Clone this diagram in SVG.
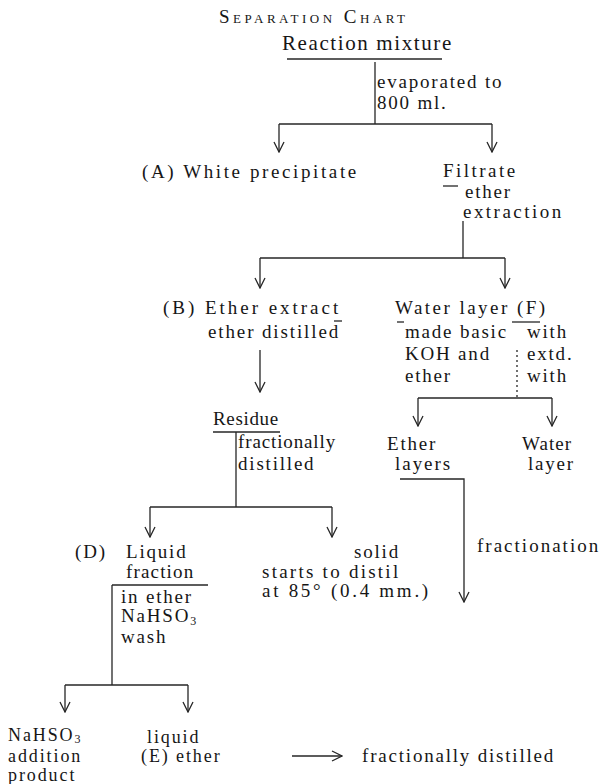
<svg xmlns="http://www.w3.org/2000/svg" width="606" height="784" viewBox="0 0 606 784">
<defs>
<style>
text{font-family:"Liberation Serif","DejaVu Serif",serif;font-size:19px;fill:#161616;letter-spacing:1.8px}
.t{font-size:19px;font-variant:small-caps;letter-spacing:0}
.h{font-size:21px}
.b{font-size:18px;letter-spacing:1.9px}
.c line,.c path,.c polyline{stroke:#262626;stroke-width:1.3;fill:none}
.sub{font-size:12px}
</style>
<marker id="ah" viewBox="0 0 12 12" refX="11" refY="6" markerWidth="12" markerHeight="12" markerUnits="userSpaceOnUse" orient="auto">
<path d="M1,1 L11,6 L1,11" fill="none" stroke="#262626" stroke-width="1.3"/>
</marker>
</defs>
<rect width="606" height="784" fill="#fff"/>

<g id="title"><text class="t" x="219" y="23" textLength="186" lengthAdjust="spacing">Separation Chart</text></g>
<g id="reaction"><text class="h" x="282" y="50" textLength="171" lengthAdjust="spacing">Reaction mixture</text></g>
<g id="evap"><text x="377" y="88">evaporated to</text><text x="377" y="109">800 ml.</text></g>
<g id="nodeA"><text x="142" y="178" textLength="216" lengthAdjust="spacing">(A)  White precipitate</text></g>
<g id="filtrate"><text x="443" y="177" textLength="74" lengthAdjust="spacing">Filtrate</text>
<text x="465" y="198">ether</text><text x="463" y="218" textLength="100" lengthAdjust="spacing">extraction</text></g>
<g id="nodeB"><text x="163" y="314" textLength="177" lengthAdjust="spacing">(B)  Ether extract</text>
<text x="208" y="338" textLength="132" lengthAdjust="spacing">ether distilled</text></g>
<g id="nodeF"><text x="395" y="314" textLength="152" lengthAdjust="spacing">Water layer (F)</text>
<text x="405" y="338">made basic</text><text x="527" y="338">with</text>
<text x="405" y="360">KOH and</text><text x="527" y="360">extd.</text>
<text x="405" y="382">ether</text><text x="527" y="382">with</text></g>
<g id="residue"><text x="213" y="425" textLength="67" lengthAdjust="spacing">Residue</text>
<text x="238" y="448" textLength="99" lengthAdjust="spacing">fractionally</text><text x="238" y="470">distilled</text></g>
<g id="etherLayers"><text x="387" y="450">Ether</text><text x="395" y="470" textLength="57" lengthAdjust="spacing">layers</text></g>
<g id="waterLayer"><text x="522" y="450" textLength="51" lengthAdjust="spacing">Water</text><text x="528" y="470">layer</text></g>
<g id="fractionation"><text x="477" y="552" textLength="123" lengthAdjust="spacing">fractionation</text></g>
<g id="nodeD"><text x="75" y="558">(D)</text><text x="126" y="558">Liquid</text>
<text x="126" y="578" textLength="69" lengthAdjust="spacing">fraction</text>
<text x="121" y="603">in ether</text>
<text x="121" y="622">NaHSO<tspan class="sub" dy="3">3</tspan></text>
<text x="121" y="643">wash</text></g>
<g id="solid"><text x="354" y="558">solid</text>
<text x="262" y="578" textLength="138" lengthAdjust="spacing">starts to distil</text>
<text x="262" y="597" textLength="168" lengthAdjust="spacing">at 85° (0.4 mm.)</text></g>
<g id="addition"><text class="b" x="8" y="741">NaHSO<tspan class="sub" dy="2">3</tspan></text>
<text class="b" x="8" y="762">addition</text><text class="b" x="8" y="781">product</text></g>
<g id="nodeE"><text class="b" x="147" y="743">liquid</text><text class="b" x="141" y="762">(E) ether</text></g>
<g id="fracDist"><text x="362" y="762">fractionally distilled</text></g>

<g id="connectors" class="c">
<line x1="287" y1="59" x2="442" y2="59"/>
<line x1="375" y1="62" x2="375" y2="124"/>
<line x1="279" y1="124" x2="492" y2="124"/>
<line x1="279" y1="124" x2="279" y2="152" marker-end="url(#ah)"/>
<line x1="492" y1="124" x2="492" y2="152" marker-end="url(#ah)"/>
<line x1="443" y1="186" x2="458" y2="186"/>
<line x1="463" y1="221" x2="463" y2="258"/>
<line x1="260" y1="258" x2="505" y2="258"/>
<line x1="260" y1="258" x2="260" y2="288" marker-end="url(#ah)"/>
<line x1="505" y1="258" x2="505" y2="288" marker-end="url(#ah)"/>
<line x1="334" y1="321" x2="342" y2="321"/>
<line x1="260" y1="350" x2="260" y2="392" marker-end="url(#ah)"/>
<line x1="397" y1="322" x2="404" y2="322"/>
<line x1="512" y1="322" x2="540" y2="322"/>
<line x1="517" y1="350" x2="517" y2="398" style="stroke-dasharray:2 3"/>
<line x1="418" y1="398" x2="552" y2="398"/>
<line x1="418" y1="398" x2="418" y2="426" marker-end="url(#ah)"/>
<line x1="552" y1="398" x2="552" y2="426" marker-end="url(#ah)"/>
<line x1="213" y1="432" x2="280" y2="432"/>
<line x1="236" y1="432" x2="236" y2="507"/>
<line x1="150" y1="507" x2="332" y2="507"/>
<line x1="150" y1="507" x2="150" y2="537" marker-end="url(#ah)"/>
<line x1="332" y1="507" x2="332" y2="537" marker-end="url(#ah)"/>
<polyline points="400,479 464,479 464,602" marker-end="url(#ah)"/>
<line x1="112" y1="585" x2="208" y2="585"/>
<line x1="112" y1="585" x2="112" y2="685"/>
<line x1="65" y1="685" x2="188" y2="685"/>
<line x1="65" y1="685" x2="65" y2="712" marker-end="url(#ah)"/>
<line x1="188" y1="685" x2="188" y2="712" marker-end="url(#ah)"/>
<line x1="292" y1="756" x2="342" y2="756" marker-end="url(#ah)"/>
</g>
</svg>
